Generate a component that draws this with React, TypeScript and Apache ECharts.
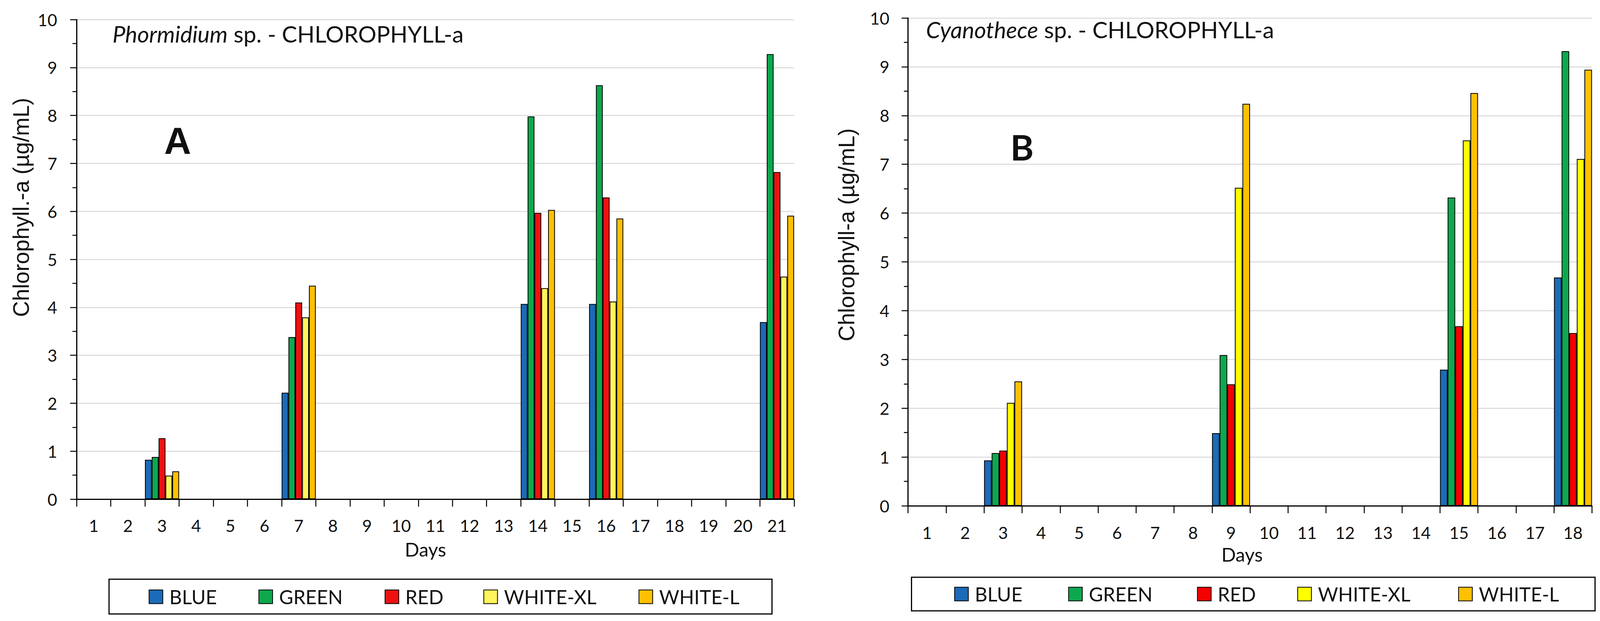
import React, { useEffect, useRef } from "react";
import * as echarts from "echarts";

// ---- Data ----
const phormCategories = ["1","2","3","4","5","6","7","8","9","10","11","12","13","14","15","16","17","18","19","20","21"];
const cyanoCategories = ["1","2","3","4","5","6","7","8","9","10","11","12","13","14","15","16","17","18"];
const seriesNames = ["BLUE", "GREEN", "RED", "WHITE-XL", "WHITE-L"];

const phormDays = ["3", "7", "14", "16", "21"];
const phormBlue = [0.82, 2.22, 4.07, 4.07, 3.69];
const phormGreen = [0.88, 3.38, 7.98, 8.63, 9.28];
const phormRed = [1.27, 4.10, 5.97, 6.29, 6.82];
const phormWhiteXL = [0.49, 3.79, 4.40, 4.12, 4.64];
const phormWhiteL = [0.58, 4.45, 6.03, 5.85, 5.91];

const cyanoDays = ["3", "9", "15", "18"];
const cyanoBlue = [0.93, 1.49, 2.79, 4.68];
const cyanoGreen = [1.08, 3.09, 6.32, 9.32];
const cyanoRed = [1.13, 2.49, 3.68, 3.54];
const cyanoWhiteXL = [2.11, 6.52, 7.49, 7.11];
const cyanoWhiteL = [2.55, 8.24, 8.46, 8.94];

const yTicks = [0, 10, 1];

const colorsA = ["#1B6BB8", "#0DA84E", "#EE1111", "#FFF55C", "#FFC000"];
const colorsB = ["#1B6BB8", "#0DA84E", "#F50000", "#FFFF00", "#FFC000"];

// legend icon left edges (reference px)
const legendXA = [390, 678, 1009, 1268, 1675];
const legendXB = [2503, 2802, 3140, 3403, 3825];

function expand(categories: string[], days: string[], values: number[]) {
  return categories.map((c) => {
    const i = days.indexOf(c);
    return i >= 0 ? values[i] : null;
  });
}

const TICK_FONT = "Lato";
const REF_W = 4197;
const REF_H = 1590;

export default function App() {
  const ref = useRef<HTMLDivElement>(null);

  useEffect(() => {
    document.body.style.margin = "0";
    document.body.style.overflow = "hidden";
    document.documentElement.style.overflow = "hidden";
    if (!ref.current) return;
    const vw = Math.min(window.innerWidth || REF_W, document.documentElement.clientWidth || REF_W);
    const vh = Math.min(window.innerHeight || REF_H, document.documentElement.clientHeight || REF_H);
    const W = Math.min(REF_W, vw);
    const H = Math.min(REF_H, vh);
    ref.current.style.width = W + "px";
    ref.current.style.height = H + "px";
    const sx = W / REF_W;
    const sy = H / REF_H;
    const sf = Math.min(sx, sy);
    const X = (v: number) => v * sx;
    const Y = (v: number) => v * sy;
    const F = (v: number) => v * sf;

    const chart = echarts.init(ref.current, undefined, { renderer: "svg" });

    const makeXAxis = (gridIndex: number, data: string[], margin: number) => ({
      type: "category",
      gridIndex,
      data,
      boundaryGap: true,
      axisLine: { show: true, lineStyle: { color: "#000", width: 3 } },
      axisTick: { show: true, length: Y(19), interval: 0, lineStyle: { color: "#000", width: 2.5 } },
      axisLabel: { interval: 0, margin: Y(margin), fontFamily: TICK_FONT, fontSize: F(44), color: "#111" },
      splitLine: { show: false },
    });

    const makeYAxis = (gridIndex: number, margin: number) => ({
      type: "value",
      gridIndex,
      min: yTicks[0],
      max: yTicks[1],
      interval: yTicks[2],
      axisLine: { show: true, lineStyle: { color: "#000", width: 3 } },
      axisTick: { show: true, length: X(17), lineStyle: { color: "#000", width: 2.5 } },
      minorTick: { show: true, splitNumber: 2, length: X(11), lineStyle: { color: "#000", width: 2.5 } },
      axisLabel: { margin: X(margin), fontFamily: TICK_FONT, fontSize: F(44), color: "#111" },
      splitLine: { show: true, lineStyle: { color: "#D9D9D9", width: 2.5 } },
    });

    const valsA = [phormBlue, phormGreen, phormRed, phormWhiteXL, phormWhiteL];
    const valsB = [cyanoBlue, cyanoGreen, cyanoRed, cyanoWhiteXL, cyanoWhiteL];

    const series: any[] = [];
    seriesNames.forEach((name, i) => {
      series.push({
        name,
        type: "bar",
        xAxisIndex: 0,
        yAxisIndex: 0,
        barGap: "0%",
        barCategoryGap: "0%",
        data: expand(phormCategories, phormDays, valsA[i]),
        itemStyle: { color: colorsA[i], borderColor: "#000", borderWidth: 2 },
      });
    });
    seriesNames.forEach((name, i) => {
      series.push({
        name,
        type: "bar",
        xAxisIndex: 1,
        yAxisIndex: 1,
        barGap: "0%",
        barCategoryGap: "0%",
        data: expand(cyanoCategories, cyanoDays, valsB[i]),
        itemStyle: { color: colorsB[i], borderColor: "#000", borderWidth: 2 },
      });
    });

    const legendItem = (name: string, color: string, left: number, centerY: number) => ({
      orient: "horizontal",
      left: X(left),
      top: Y(centerY) - F(30),
      itemWidth: X(36),
      itemHeight: Y(35),
      icon: "rect",
      padding: 0,
      selectedMode: false,
      itemStyle: { borderColor: "#000", borderWidth: 2 },
      textStyle: { fontFamily: TICK_FONT, fontSize: F(51), color: "#111", padding: [0, 0, 0, X(12)], lineHeight: F(60) },
      data: [{ name, itemStyle: { color } }],
    });

    const legends = [
      ...seriesNames.map((n, i) => legendItem(n, colorsA[i], legendXA[i], 1528)),
      ...seriesNames.map((n, i) => legendItem(n, colorsB[i], legendXB[i], 1521)),
    ];

    const titleRich = (size: number) => ({
      i: { fontFamily: TICK_FONT, fontStyle: "italic", fontWeight: "normal", fontSize: F(size), color: "#111" },
      n: { fontFamily: TICK_FONT, fontWeight: "normal", fontSize: F(size), color: "#111" },
    });

    const txt = (text: string, x: number, y: number, font: string, rotation = 0) => ({
      type: "text",
      x: X(x),
      y: Y(y),
      rotation,
      style: { text, font, fill: "#111", textAlign: "center", textVerticalAlign: "middle" },
    });

    chart.setOption({
      animation: false,
      backgroundColor: "#fff",
      title: [
        {
          text: "{i|Phormidium}{n| sp. - CHLOROPHYLL-a}",
          left: X(295),
          top: Y(56),
          padding: 0,
          textStyle: { fontWeight: "normal", rich: titleRich(60) },
        },
        {
          text: "{i|Cyanothece}{n| sp. - CHLOROPHYLL-a}",
          left: X(2429),
          top: Y(45),
          padding: 0,
          textStyle: { fontWeight: "normal", rich: titleRich(60) },
        },
      ],
      grid: [
        { left: X(201), right: X(REF_W - 2083), top: Y(50), bottom: Y(REF_H - 1278), containLabel: false },
        { left: X(2382), right: X(REF_W - 4176), top: Y(46), bottom: Y(REF_H - 1295), containLabel: false },
      ],
      xAxis: [makeXAxis(0, phormCategories, 46), makeXAxis(1, cyanoCategories, 47)],
      yAxis: [makeYAxis(0, 51), makeYAxis(1, 49)],
      legend: legends,
      graphic: [
        {
          type: "rect",
          shape: { x: X(286), y: Y(1483), width: X(2025 - 286), height: Y(89) },
          style: { fill: "none", stroke: "#000", lineWidth: 3 },
          silent: true,
        },
        {
          type: "rect",
          shape: { x: X(2391), y: Y(1478), width: X(4184 - 2391), height: Y(86) },
          style: { fill: "none", stroke: "#000", lineWidth: 3 },
          silent: true,
        },
        txt("Chlorophyll.-a (µg/mL)", 56, 531, `${F(58)}px 'Liberation Sans', Arial, sans-serif`, Math.PI / 2),
        txt("Chlorophyll-a (µg/mL)", 2221, 601, `${F(58)}px 'Liberation Sans', Arial, sans-serif`, Math.PI / 2),
        txt("Days", 1116, 1406, `${F(50)}px Lato, sans-serif`),
        txt("Days", 3258, 1419, `${F(50)}px Lato, sans-serif`),
        txt("A", 466, 360, `bold ${F(98)}px 'Liberation Sans', Arial, sans-serif`),
        txt("B", 2681, 375, `bold ${F(93)}px Lato, sans-serif`),
      ],
      series,
    });

    return () => chart.dispose();
  }, []);

  return <div ref={ref} style={{ width: REF_W, height: REF_H, display: "block" }} />;
}
